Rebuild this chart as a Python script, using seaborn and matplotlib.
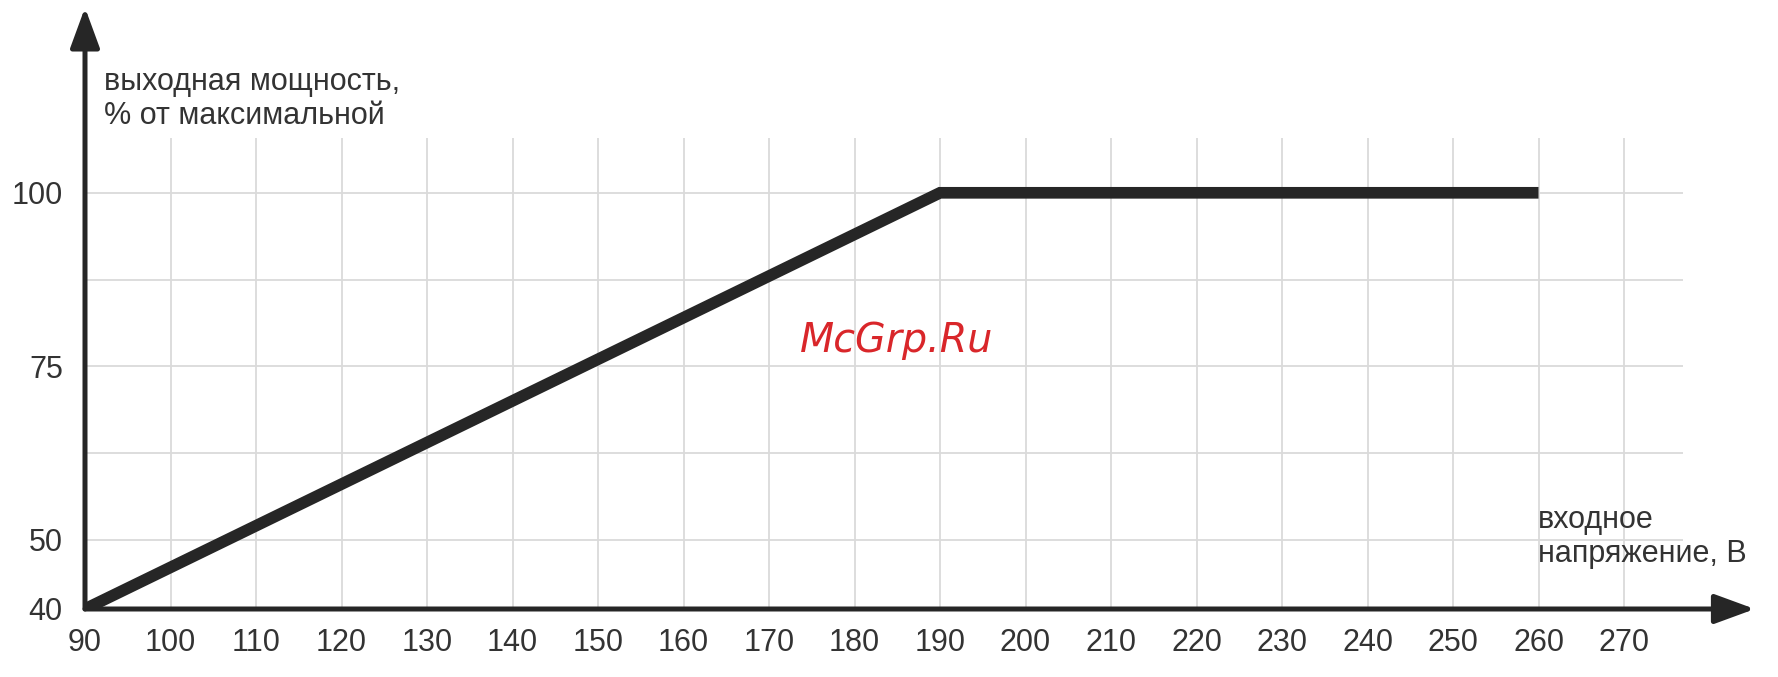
import matplotlib
matplotlib.use("Agg")
import matplotlib.pyplot as plt
import seaborn as sns
import pandas as pd

# data
voltage = [90, 190, 260]          # входное напряжение, В
power = [40, 100, 100]            # выходная мощность, %
x_ticks = list(range(90, 271, 10))
y_ticks = [40, 50, 62.5, 75, 87.5, 100]
y_tick_labels = ["40", "50", "", "75", "", "100"]

df = pd.DataFrame({"voltage": voltage, "power": power})

sns.set_theme(style="white")
plt.rcParams["font.family"] = ["Liberation Sans", "DejaVu Sans"]

ink = "#262626"
text_col = "#333333"

fig = plt.figure(figsize=(17.78, 6.77), dpi=100)
W, H = 1778, 677
# axes box in pixels: origin (85, 609), grid ends at x=1683, y=138
ax = fig.add_axes([85 / W, 1 - 609 / H, (1683 - 85) / W, (609 - 138) / H])
ax.set_xlim(90, 276.9)
ax.set_ylim(40, 107.9)

ax.set_xticks(x_ticks)
ax.set_yticks(y_ticks)
ax.set_yticklabels(y_tick_labels)
ax.grid(True, color="#dadada", linewidth=1.3)
ax.tick_params(axis="both", length=0, labelsize=22, labelcolor=text_col)
ax.tick_params(axis="x", pad=14)
ax.tick_params(axis="y", pad=16)
for s in ax.spines.values():
    s.set_visible(False)

sns.lineplot(data=df, x="voltage", y="power", ax=ax, color=ink, linewidth=8.4,
             solid_capstyle="butt", solid_joinstyle="miter", zorder=5)
ax.set_xlabel("")
ax.set_ylabel("")

# axis arrows
arrow = dict(arrowstyle="-|>,head_length=0.6,head_width=0.22", mutation_scale=41,
             lw=3.6, color=ink, shrinkA=0, shrinkB=0)
ax.annotate("", xy=(90, 126.7), xytext=(90, 40), arrowprops=arrow,
            annotation_clip=False, zorder=6)
ax.annotate("", xy=(285.3, 40), xytext=(90, 40), arrowprops=arrow,
            annotation_clip=False, zorder=6)

# axis titles (baseline = last line)
fig.text(104 / W, 1 - 124 / H, "выходная мощность,\n% от максимальной",
         fontsize=22, color=text_col, va="baseline", ha="left", linespacing=1.18)
fig.text(1538 / W, 1 - 562 / H, "входное\nнапряжение, В",
         fontsize=22, color=text_col, va="baseline", ha="left", linespacing=1.18)

# watermark
fig.text(897 / W, 1 - 340 / H, "McGrp.Ru", fontsize=28.5, color="#d9262a",
         family="DejaVu Sans", style="italic", ha="center", va="center")

fig.savefig("out.png", dpi=100, facecolor="white")
